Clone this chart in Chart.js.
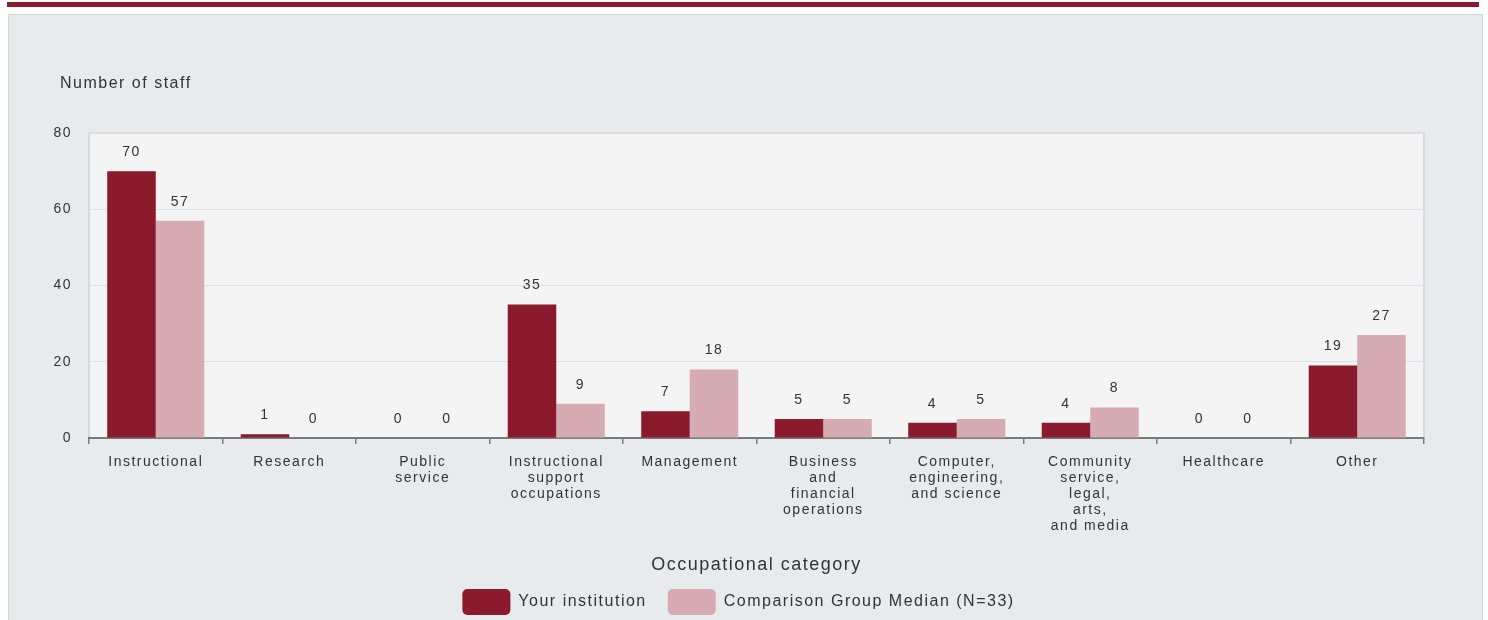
<!DOCTYPE html>
<html lang="en">
<head>
<meta charset="UTF-8">
<title>Number of staff by occupational category</title>
<script src="https://cdn.jsdelivr.net/npm/chart.js"></script>
<style>
    body {
        margin: 0;
        width: 1488px;
        height: 620px;
        overflow: hidden;
        background: #fff;
        position: relative;
        font-family: 'Liberation Sans', Arial, sans-serif;
    }
    #topBar {
        position: absolute;
        left: 7px;
        top: 2px;
        width: 1472px;
        height: 5px;
        background: #8a1a2c;
    }
    #panel {
        position: absolute;
        left: 8px;
        top: 14px;
        width: 1475px;
        height: 640px;
        background: #e8ebee;
        border: 1px solid #d3d7dc;
        box-sizing: border-box;
    }
    #chartBox {
        position: absolute;
        left: 8px;
        top: 14px;
        width: 1474px;
        height: 630px;
    }
</style>
</head>
<body>
<div id="topBar"></div>
<div id="panel"></div>
<div id="chartBox"><canvas id="staffChart"></canvas></div>

<script>
const categories = [
    'Instructional',
    'Research',
    ['Public', 'service'],
    ['Instructional', 'support', 'occupations'],
    'Management',
    ['Business', 'and', 'financial', 'operations'],
    ['Computer,', 'engineering,', 'and science'],
    ['Community', 'service,', 'legal,', 'arts,', 'and media'],
    'Healthcare',
    'Other'
];
const yourInstitution = [70, 1, 0, 35, 7, 5, 4, 4, 0, 19];
const comparisonMedian = [57, 0, 0, 9, 18, 5, 5, 8, 0, 27];
const yTicks = [0, 20, 40, 60, 80];
const seriesNames = ['Your institution', 'Comparison Group Median (N=33)'];

const textColor = '#333';

// the original text is spaced out a little
const spacing = {
    id: 'spacing',
    beforeLayout(chart) { chart.ctx.letterSpacing = '1.5px'; },
    beforeDraw(chart) { chart.ctx.letterSpacing = '1.5px'; }
};

const plotBackground = {
    id: 'plotBackground',
    beforeDraw(chart) {
        const {ctx, chartArea: a} = chart;
        ctx.save();
        ctx.fillStyle = '#f4f4f4';
        ctx.fillRect(a.left, a.top, a.right - a.left, a.bottom - a.top);
        ctx.strokeStyle = '#d6dbe0';
        ctx.lineWidth = 2;
        ctx.strokeRect(a.left, a.top, a.right - a.left, a.bottom - a.top);
        ctx.restore();
    }
};

const valueLabels = {
    id: 'valueLabels',
    afterDatasetsDraw(chart) {
        const ctx = chart.ctx;
        ctx.save();
        ctx.font = '14px "Liberation Sans", Arial, sans-serif';
        ctx.fillStyle = textColor;
        ctx.textAlign = 'center';
        ctx.textBaseline = 'middle';
        chart.data.datasets.forEach((ds, i) => {
            chart.getDatasetMeta(i).data.forEach((bar, j) => {
                ctx.fillText(ds.data[j], bar.x, bar.y - 19);
            });
        });
        ctx.restore();
    }
};

const staffTitle = {
    id: 'staffTitle',
    afterDraw(chart) {
        const ctx = chart.ctx;
        ctx.save();
        ctx.font = '16px "Liberation Sans", Arial, sans-serif';
        ctx.fillStyle = textColor;
        ctx.textAlign = 'left';
        ctx.textBaseline = 'middle';
        ctx.fillText('Number of staff', chart.chartArea.left - 29, chart.chartArea.top - 49);
        ctx.restore();
    }
};

Chart.defaults.font.family = "'Liberation Sans', Arial, sans-serif";
Chart.defaults.color = textColor;

new Chart(document.getElementById('staffChart'), {
    type: 'bar',
    data: {
        labels: categories,
        datasets: [{
            label: seriesNames[0],
            data: yourInstitution,
            backgroundColor: '#8a1a2c'
        }, {
            label: seriesNames[1],
            data: comparisonMedian,
            backgroundColor: '#d6abb2'
        }]
    },
    options: {
        responsive: true,
        maintainAspectRatio: false,
        animation: false,
        categoryPercentage: 0.727,
        barPercentage: 1,
        layout: {
            padding: {left: 45, right: 58, top: 119, bottom: 19}
        },
        scales: {
            x: {
                grid: {
                    display: true,
                    drawOnChartArea: false,
                    tickLength: 6,
                    color: '#7a7a7a',
                    lineWidth: 1.5
                },
                border: {display: true, color: '#7a7a7a', width: 2},
                ticks: {
                    autoSkip: false,
                    maxRotation: 0,
                    minRotation: 0,
                    padding: 10,
                    color: textColor,
                    font: {size: 14, lineHeight: '16px'}
                },
                title: {
                    display: true,
                    text: 'Occupational category',
                    color: '#333',
                    font: {size: 18},
                    padding: {top: 0, bottom: -8}
                },
                afterFit(scale) { scale.height = 130; }
            },
            y: {
                min: 0,
                max: 80,
                afterBuildTicks(scale) {
                    scale.ticks = yTicks.map(v => ({value: v}));
                },
                grid: {color: '#dde1e6', drawTicks: false},
                border: {display: false},
                ticks: {padding: 17, color: textColor, font: {size: 14}},
                afterFit(scale) { scale.width = 36; }
            }
        },
        plugins: {
            legend: {
                position: 'bottom',
                labels: {
                    boxWidth: 48,
                    boxHeight: 26,
                    useBorderRadius: true,
                    borderRadius: 5,
                    padding: 21,
                    color: '#333',
                    font: {size: 16}
                }
            },
            tooltip: {enabled: false}
        }
    },
    plugins: [spacing, plotBackground, valueLabels, staffTitle]
});
</script>
</body>
</html>
